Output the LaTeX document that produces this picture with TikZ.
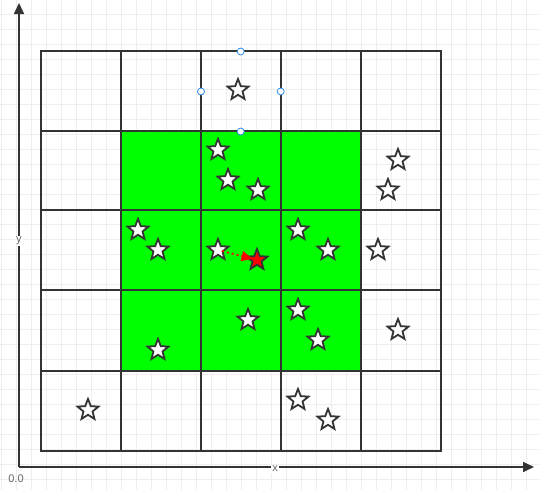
\documentclass[tikz,border=0pt]{standalone}
\usepackage{fontspec}
\setmainfont{Liberation Sans}
\usetikzlibrary{shapes.geometric,arrows.meta}
\definecolor{bggrid}{HTML}{EEEEEE}
\definecolor{edge}{HTML}{333333}
\definecolor{handle}{HTML}{2A8CF0}
\definecolor{lbl}{HTML}{666666}
\tikzset{
  starnode/.style={shape=star, star points=5, star point ratio=2.3, minimum size=22pt, inner sep=0pt, draw=edge, line width=1.8pt, fill=white},
  redstar/.style={starnode, fill=red},
  handlenode/.style={circle, draw=handle, fill=white, line width=0.8pt, minimum size=7pt, inner sep=0pt},
  axis/.style={draw=edge, line width=1.6pt, -{Triangle[length=11pt,width=10pt]}},
  axlabel/.style={text=lbl, font=\fontsize{11pt}{12pt}\selectfont, inner sep=1pt},
  cellline/.style={draw=edge, line width=2pt},
}
\begin{document}
\begin{tikzpicture}[x=1pt,y=-1pt]
\useasboundingbox (0,0) rectangle (539,490);
\fill[white] (0,0) rectangle (539,490);
% background grid
\foreach \i in {0,...,35} {
  \draw[bggrid, line width=0.8pt] ({1.7+15*\i},0) -- ({1.7+15*\i},490);
}
\foreach \j in {0,...,32} {
  \draw[bggrid, line width=0.8pt] (0,{14.5+15*\j}) -- (539,{14.5+15*\j});
}
% axes
\coordinate (O) at (19,467);
\coordinate (yend) at (19,3);
\coordinate (xend) at (534,467);
\draw[axis] (O) -- (yend);
\draw[axis] (O) -- (xend);
\node[axlabel, fill=white] (ylab) at (19,241) {y};
\node[axlabel, fill=white] (xlab) at (275,469) {x};
\node[axlabel] (olab) at (16,479) {0.0};
% green region
\fill[green] (121,131) rectangle (361,371);
% cells
\draw[cellline] (41,51) rectangle (441,451);
\foreach \x in {121,201,281,361} { \draw[cellline] (\x,51) -- (\x,451); }
\foreach \y in {131,210,290,371} { \draw[cellline] (41,\y) -- (441,\y); }
% stars
\node[starnode] (s1) at (238,90) {};
\node[starnode] (s2) at (218,150) {};
\node[starnode] (s3) at (228,180) {};
\node[starnode] (s4) at (258,190) {};
\node[starnode] (s5) at (398,160) {};
\node[starnode] (s6) at (388,190) {};
\node[starnode] (s7) at (138,230) {};
\node[starnode] (s8) at (158,250) {};
\node[starnode] (s9) at (218,250) {};
\node[redstar] (sr) at (257,260) {};
\node[starnode] (s10) at (298,230) {};
\node[starnode] (s11) at (328,250) {};
\node[starnode] (s12) at (378,250) {};
\node[starnode] (s13) at (248,320) {};
\node[starnode] (s14) at (298,310) {};
\node[starnode] (s15) at (318,340) {};
\node[starnode] (s16) at (158,350) {};
\node[starnode] (s17) at (398,330) {};
\node[starnode] (s18) at (88,410) {};
\node[starnode] (s19) at (298,400) {};
\node[starnode] (s20) at (328,420) {};
% move arrow
\draw[red, line width=1.8pt, dash pattern=on 2pt off 3pt, -{Triangle[length=11pt,width=10pt]}, shorten <=-2pt, shorten >=-7pt] (s9) -- (sr);
% selection handles
\node[handlenode] (h1) at (240.7,51.5) {};
\node[handlenode] (h2) at (201,91.5) {};
\node[handlenode] (h3) at (280.7,91.5) {};
\node[handlenode] (h4) at (240.7,131.5) {};
\end{tikzpicture}
\end{document}
